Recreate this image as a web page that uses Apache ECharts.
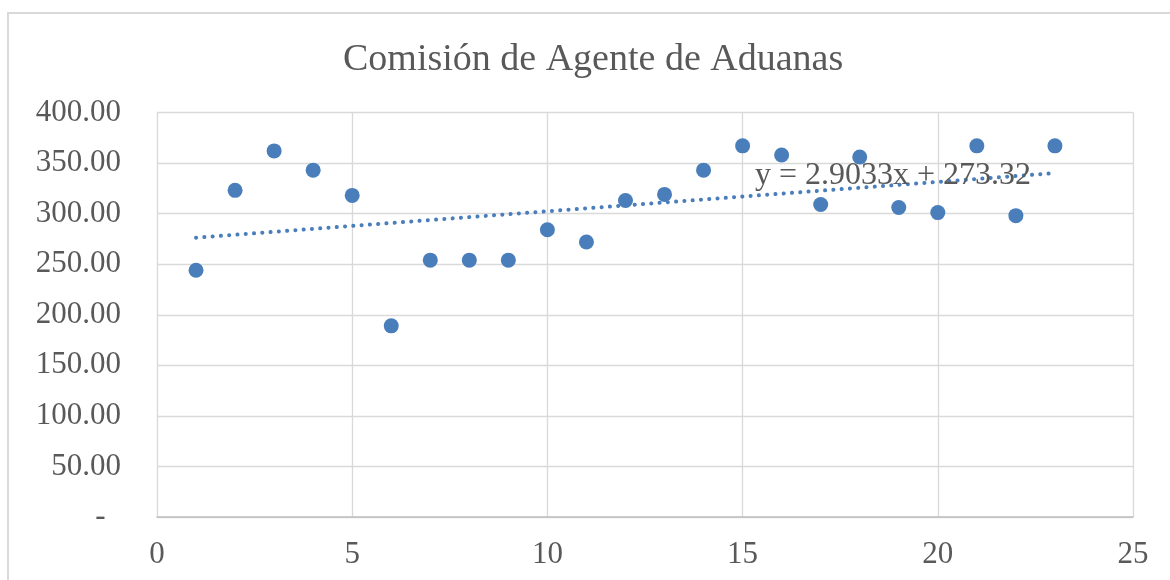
<!DOCTYPE html>
<html>
<head>
<meta charset="utf-8">
<script src="https://cdn.jsdelivr.net/npm/echarts@6/dist/echarts.min.js"></script>
<style>
  html, body { margin: 0; padding: 0; background: #fff; }
  #chart { width: 1170px; height: 580px; }
</style>
</head>
<body>
<div id="chart"></div>
<script>
// Values.
const periods = [1, 2, 3, 4, 5, 6, 7, 8, 9, 10, 11, 12, 13, 14, 15, 16, 17, 18, 19, 20, 21, 22, 23];
const commission = [244, 323, 362, 343, 318, 189, 254, 254, 254, 284, 272, 313,
  319, 343, 367, 358, 309, 356, 306, 301, 367, 298, 367];

// Linear trendline as printed on the chart.
const trendSlope = 2.9033;
const trendIntercept = 273.32;
const trendLabel = 'y = 2.9033x + 273.32';
const titleText = 'Comisión de Agente de Aduanas';

const xTicks = { min: 0, max: 25, interval: 5 };
const yTicks = { min: 0, max: 400, interval: 50 };

const FONT = '"Liberation Serif", "Times New Roman", serif';
const TEXT = '#595959';
const GRID = '#d9d9d9';
const BLUE = '#4a7ebb';

const points = periods.map((x, i) => [x, commission[i]]);
const xFirst = periods[0];
const xLast = periods[periods.length - 1];
const trend = [xFirst, xLast].map(x => [x, trendSlope * x + trendIntercept]);

const chart = echarts.init(document.getElementById('chart'), null, { renderer: 'canvas' });

chart.setOption({
  animation: false,
  backgroundColor: '#fff',
  textStyle: { fontFamily: FONT },
  title: {
    text: titleText,
    left: 338,
    top: 36,
    textStyle: { fontFamily: FONT, fontSize: 38, fontWeight: 'normal', color: TEXT }
  },
  grid: { left: 157, right: 37, top: 112.5, bottom: 63, containLabel: false },
  xAxis: {
    type: 'value',
    ...xTicks,
    axisLine: { show: true, lineStyle: { color: '#bfbfbf', width: 1.5 } },
    axisTick: { show: false },
    splitLine: { show: true, lineStyle: { color: GRID, width: 1.3 } },
    axisLabel: { color: TEXT, fontFamily: FONT, fontSize: 31, margin: 22 }
  },
  yAxis: {
    type: 'value',
    ...yTicks,
    axisLine: { show: false },
    axisTick: { show: false },
    splitLine: { show: true, lineStyle: { color: GRID, width: 1.3 } },
    axisLabel: {
      color: TEXT, fontFamily: FONT, fontSize: 31, margin: 36,
      formatter: v => (v === 0 ? '-  ' : v.toFixed(2))
    }
  },
  graphic: [
    {
      type: 'rect',
      shape: { x: 8, y: 13, width: 1200, height: 600 },
      style: { fill: null, stroke: GRID, lineWidth: 2 },
      silent: true,
      z: -1
    },
    {
      type: 'text',
      x: 755,
      y: 176,
      style: {
        text: trendLabel,
        font: '32px ' + FONT,
        fill: TEXT,
        verticalAlign: 'middle',
        align: 'left'
      },
      z: 100
    }
  ],
  series: [
    {
      type: 'scatter',
      data: points,
      symbol: 'circle',
      symbolSize: 15,
      itemStyle: { color: BLUE, opacity: 1 },
      z: 3
    },
    {
      type: 'line',
      data: trend,
      symbol: 'none',
      lineStyle: { color: BLUE, width: 4, type: [0.1, 8.2], cap: 'round' },
      z: 4
    }
  ]
});
</script>
</body>
</html>
